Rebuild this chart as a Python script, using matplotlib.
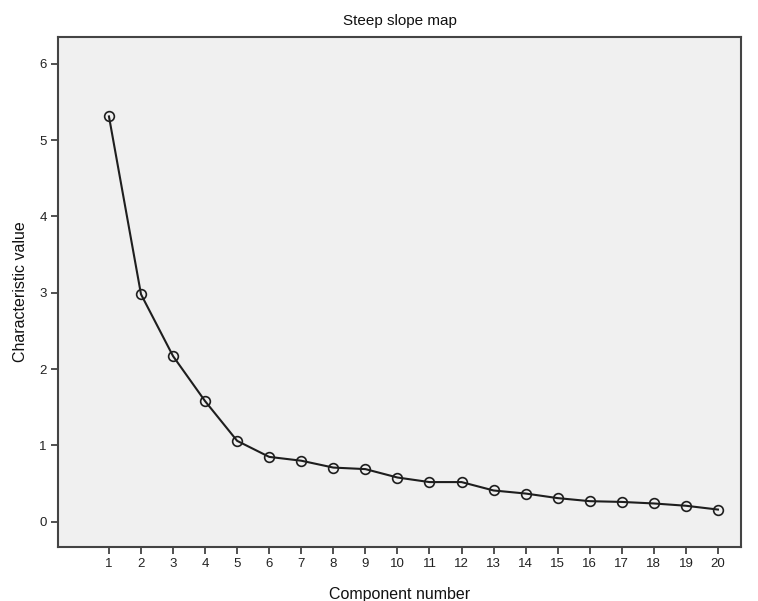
import matplotlib
matplotlib.use("Agg")
import matplotlib.pyplot as plt

plt.rcParams['font.family'] = ['Liberation Sans', 'DejaVu Sans']

# scree plot values
components = list(range(1, 21))
eigenvalues = [5.31, 2.98, 2.17, 1.58, 1.06, 0.85, 0.80, 0.71, 0.69, 0.58,
               0.52, 0.52, 0.41, 0.37, 0.31, 0.27, 0.26, 0.24, 0.21, 0.16]
y_ticks = [0, 1, 2, 3, 4, 5, 6]

fig = plt.figure(figsize=(7.58, 6.01), dpi=100)
ax = fig.add_axes([0.0765, 0.0899, 0.9011, 0.8485])
ax.set_facecolor('#f0f0f0')

ax.plot(components, eigenvalues, color='#1e1e1e', lw=1.5,
        marker='o', ms=7, mfc='none', mec='#1e1e1e', mew=1.2)

ax.set_xlim(-0.59, 20.72)
ax.set_ylim(-0.33, 6.35)
ax.set_xticks(components)
ax.set_yticks(y_ticks)
ax.tick_params(axis='both', direction='out', length=5, width=1.2,
               color='#333333', labelsize=9.5, labelcolor='#222222', pad=3)

for s in ax.spines.values():
    s.set_color('#444444')
    s.set_linewidth(1.5)

ax.set_title('Steep slope map', fontsize=11, color='#111111', pad=9)
ax.set_xlabel('Component number', fontsize=11.5, color='#111111', labelpad=12)
ax.set_ylabel('Characteristic value', fontsize=11.5, color='#111111', labelpad=8)

fig.savefig('out.png', dpi=100)
